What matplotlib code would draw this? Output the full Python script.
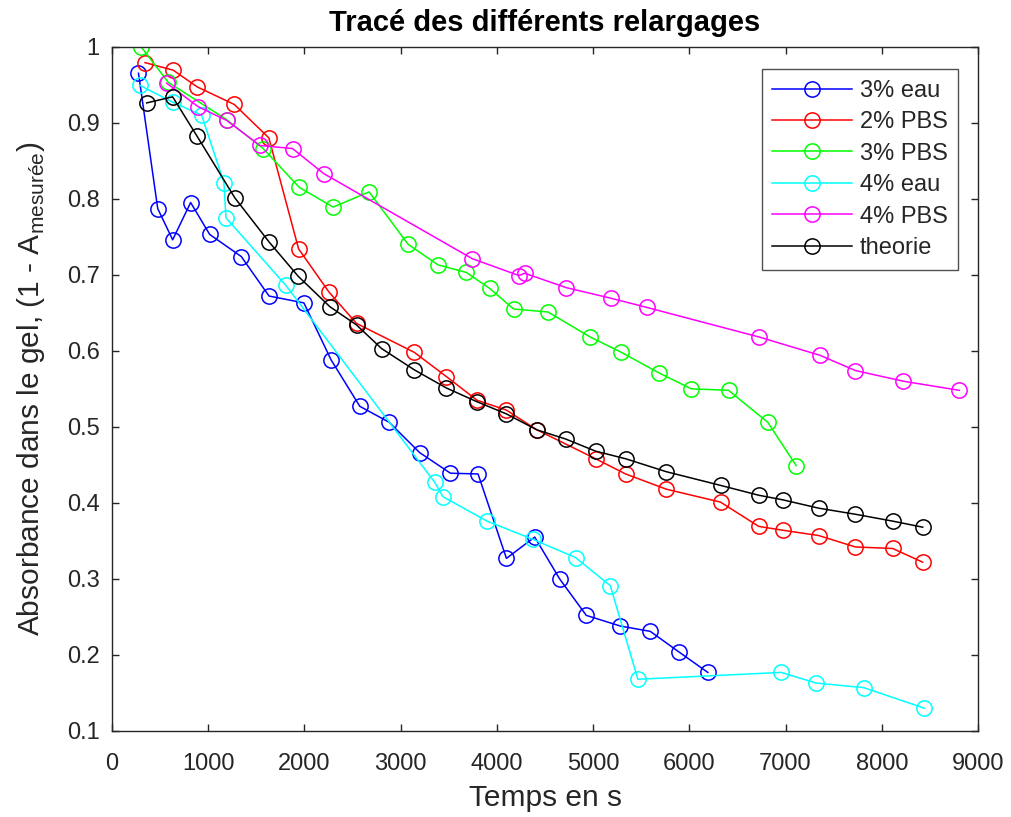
import matplotlib
matplotlib.use('Agg')
import matplotlib.pyplot as plt
from matplotlib.ticker import FuncFormatter

plt.rcParams['font.family'] = ['Liberation Sans', 'DejaVu Sans']
plt.rcParams['mathtext.fontset'] = 'custom'
plt.rcParams['mathtext.rm'] = 'Liberation Sans'

# données
t_3eau = [275, 475, 630, 817, 1015, 1343, 1632, 1994, 2277, 2575, 2880, 3198, 3517, 3804,
          4099, 4393, 4652, 4929, 5283, 5594, 5891, 6192]
a_3eau = [0.965, 0.787, 0.746, 0.795, 0.753, 0.724, 0.672, 0.663, 0.588, 0.527, 0.506, 0.466,
          0.439, 0.438, 0.327, 0.355, 0.300, 0.252, 0.238, 0.231, 0.204, 0.177]

t_2pbs = [343, 637, 886, 1270, 1630, 1939, 2256, 2541, 3141, 3476, 3793, 4099, 4416, 5026,
          5338, 5760, 6324, 6722, 6971, 7345, 7726, 8113, 8425]
a_2pbs = [0.979, 0.969, 0.947, 0.924, 0.880, 0.734, 0.677, 0.636, 0.598, 0.566, 0.535, 0.522,
          0.496, 0.458, 0.438, 0.418, 0.401, 0.369, 0.364, 0.357, 0.342, 0.340, 0.322]

t_3pbs = [301, 585, 1191, 1571, 1945, 2298, 2672, 3077, 3388, 3683, 3925, 4174, 4531, 4971,
          5293, 5683, 6020, 6407, 6815, 7110]
a_3pbs = [1.0, 0.953, 0.904, 0.866, 0.815, 0.789, 0.809, 0.740, 0.713, 0.703, 0.682, 0.655,
          0.651, 0.618, 0.598, 0.571, 0.550, 0.548, 0.506, 0.449]

t_4eau = [291, 630, 931, 1163, 1184, 1807, 3354, 3440, 3897, 4375, 4818, 5179, 5465, 6954,
          7318, 7812, 8442]
a_4eau = [0.949, 0.927, 0.910, 0.821, 0.775, 0.686, 0.427, 0.408, 0.376, 0.352, 0.328, 0.291,
          0.168, 0.177, 0.163, 0.157, 0.130]

t_4pbs = [568, 896, 1191, 1537, 1876, 2201, 3746, 4229, 4289, 4722, 5189, 5559, 6729, 7359,
          7726, 8224, 8806]
a_4pbs = [0.952, 0.921, 0.903, 0.870, 0.866, 0.833, 0.721, 0.699, 0.702, 0.683, 0.669, 0.657,
          0.618, 0.594, 0.574, 0.560, 0.548]

t_theo = [360, 630, 880, 1277, 1633, 1935, 2264, 2541, 2801, 3141, 3476, 3793, 4099, 4416,
          4714, 5026, 5338, 5760, 6324, 6722, 6971, 7345, 7726, 8113, 8425]
a_theo = [0.926, 0.934, 0.883, 0.801, 0.743, 0.698, 0.658, 0.634, 0.603, 0.575, 0.551, 0.533,
          0.517, 0.496, 0.484, 0.468, 0.458, 0.441, 0.423, 0.410, 0.404, 0.393, 0.385, 0.376,
          0.368]

series = [
    (t_3eau, a_3eau, '#0000ff', '3% eau'),
    (t_2pbs, a_2pbs, '#ff0000', '2% PBS'),
    (t_3pbs, a_3pbs, '#00ff00', '3% PBS'),
    (t_4eau, a_4eau, '#00ffff', '4% eau'),
    (t_4pbs, a_4pbs, '#ff00ff', '4% PBS'),
    (t_theo, a_theo, '#000000', 'theorie'),
]

gris = '#262626'

fig = plt.figure(figsize=(10.12, 8.17), dpi=100)
ax = fig.add_axes([0.1107, 0.1053, 0.8557, 0.8376])

for t, a, c, lab in series:
    ax.plot(t, a, '-o', color=c, mfc='none', mec=c, ms=11, lw=1.1, mew=1.1, label=lab)

ax.set_xlim(0, 9000)
ax.set_ylim(0.1, 1.0)
ax.set_xticks(range(0, 9001, 1000))
ax.set_yticks([0.1, 0.2, 0.3, 0.4, 0.5, 0.6, 0.7, 0.8, 0.9, 1.0])
ax.yaxis.set_major_formatter(FuncFormatter(lambda v, p: '%g' % round(v, 2)))
ax.tick_params(direction='in', length=5, width=1, top=True, right=True,
               labelsize=17, colors=gris)
ax.tick_params(axis='x', pad=16)
ax.tick_params(axis='y', pad=9)
for sp in ax.spines.values():
    sp.set_color(gris)
    sp.set_linewidth(1.0)

ax.set_title('Tracé des différents relargages', fontsize=21, fontweight='bold', pad=11)
ax.set_xlabel('Temps en s', fontsize=21.5, color=gris, labelpad=6)
ax.set_ylabel('Absorbance dans le gel, (1 - A$_{\\mathrm{mesurée}}$)', fontsize=21.5,
              color=gris, labelpad=14)

leg = ax.legend(loc='upper right', bbox_to_anchor=(0.977, 0.967), fontsize=17,
                frameon=True, fancybox=False, edgecolor=gris, handlelength=3.4,
                handletextpad=0.3, labelspacing=0.4, borderpad=0.45, borderaxespad=0)
leg.get_frame().set_linewidth(1.0)
for txt in leg.get_texts():
    txt.set_color(gris)

fig.savefig('out.png', dpi=100)
